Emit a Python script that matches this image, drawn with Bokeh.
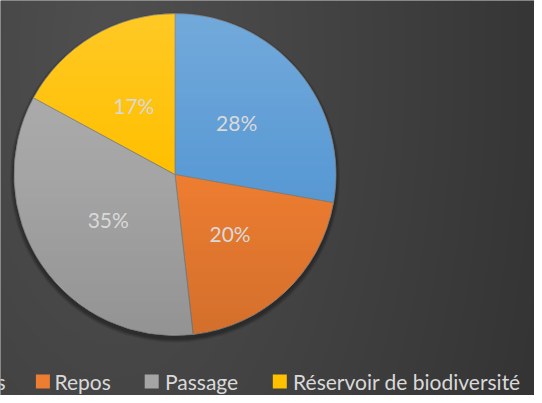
import numpy as np
from bokeh.plotting import figure
from bokeh.models import Range1d, ColumnDataSource
from bokeh.core.properties import value
from bokeh.embed import file_html
from bokeh.resources import INLINE

# ---- data ----
categories = ["s", "Repos", "Passage", "Réservoir de biodiversité"]
shares = [27.8, 20.4, 34.7, 17.1]
colors = ["#5b9bd5", "#ed7d31", "#a5a5a5", "#ffc000"]

W, H = 534, 395
p = figure(width=W, height=H, output_backend="svg", toolbar_location=None,
           x_range=Range1d(0, W), y_range=Range1d(0, H), min_border=0)
p.axis.visible = False
p.grid.visible = False
p.outline_line_color = None
p.background_fill_color = "#454545"
p.border_fill_color = "#454545"

# ---- background radial gradient ----
jj, ii = np.meshgrid(np.arange(W), np.arange(H))
xr = jj + 0.5
yr = H - (ii + 0.5)
d = np.sqrt((xr - 115) ** 2 + (0.5 * (yr - 55)) ** 2)
v = np.clip(80 - 0.062 * d, 48, 82).astype(np.uint32)
bg = (255 << 24) | (v << 16) | (v << 8) | v
p.image_rgba(image=[bg.astype(np.uint32)], x=0, y=0, dw=W, dh=H)

# ---- pie geometry ----
cx, cy, r = 174.5, 221, 161

# shadow
for rr in [165, 164, 163, 162]:
    p.circle(x=cx, y=cy - 3, radius=rr, fill_color="black", fill_alpha=0.10,
             line_color=None)

frac = np.array(shares) / sum(shares)
cum = np.concatenate([[0], np.cumsum(frac)])
start = np.pi / 2 - 2 * np.pi * cum[:-1]
end = np.pi / 2 - 2 * np.pi * cum[1:]
src = ColumnDataSource(dict(start=start, end=end, color=colors))
p.wedge(x=cx, y=cy, radius=r, start_angle="start", end_angle="end",
        direction="clock", fill_color="color", line_color="#808080",
        line_width=0.8, source=src)

# vertical sheen on the pie (lighter top, darker bottom)
n = int(2 * r + 2)
gx, gy = np.meshgrid(np.arange(n), np.arange(n))
px = gx + 0.5 - n / 2
py = gy + 0.5 - n / 2
inside = (px ** 2 + py ** 2) <= (r - 0.5) ** 2
t = 1 - (gy + 0.5) / n  # 0 at top, 1 at bottom
alpha_w = np.clip((0.5 - t) * 0.30, 0, 1)
alpha_b = np.clip((t - 0.5) * 0.22, 0, 1)
a = np.where(t < 0.5, alpha_w, alpha_b)
c = np.where(t < 0.5, 255, 0).astype(np.uint32)
A = (a * 255 * inside).astype(np.uint32)
ov = (A << 24) | (c << 16) | (c << 8) | c
p.image_rgba(image=[ov.astype(np.uint32)], x=cx - n / 2, y=cy - n / 2,
             dw=n, dh=n)

# data labels
mid = (cum[:-1] + cum[1:]) / 2 * 2 * np.pi
lx = cx + 0.5 * r * np.sin(mid)
ly = cy + 0.5 * r * np.cos(mid)
labels = [f"{round(s)}%" for s in shares]
p.text(x=lx, y=ly, text=labels, text_align="center", text_baseline="middle",
       text_color="#d9d9d9", text_font=value("Lato"), text_font_size="21px")

# ---- legend (first entry is cut by the left edge) ----
leg_y = 14
sq_x = [42.4, 151.2, 279.3]
txt_x = [54, 164.5, 292.6]
p.scatter(x=sq_x, y=[leg_y] * 3, marker="square", size=14,
          fill_color=colors[1:], line_color=None)
p.text(x=txt_x, y=[leg_y] * 3, text=categories[1:], text_align="left",
       text_baseline="middle", text_color="#d9d9d9", text_font=value("Lato"),
       text_font_size="21px")
p.text(x=[5], y=[leg_y], text=categories[:1], text_align="right",
       text_baseline="middle", text_color="#d9d9d9", text_font=value("Lato"),
       text_font_size="21px")

open("out.html", "w").write(file_html(p, INLINE))
